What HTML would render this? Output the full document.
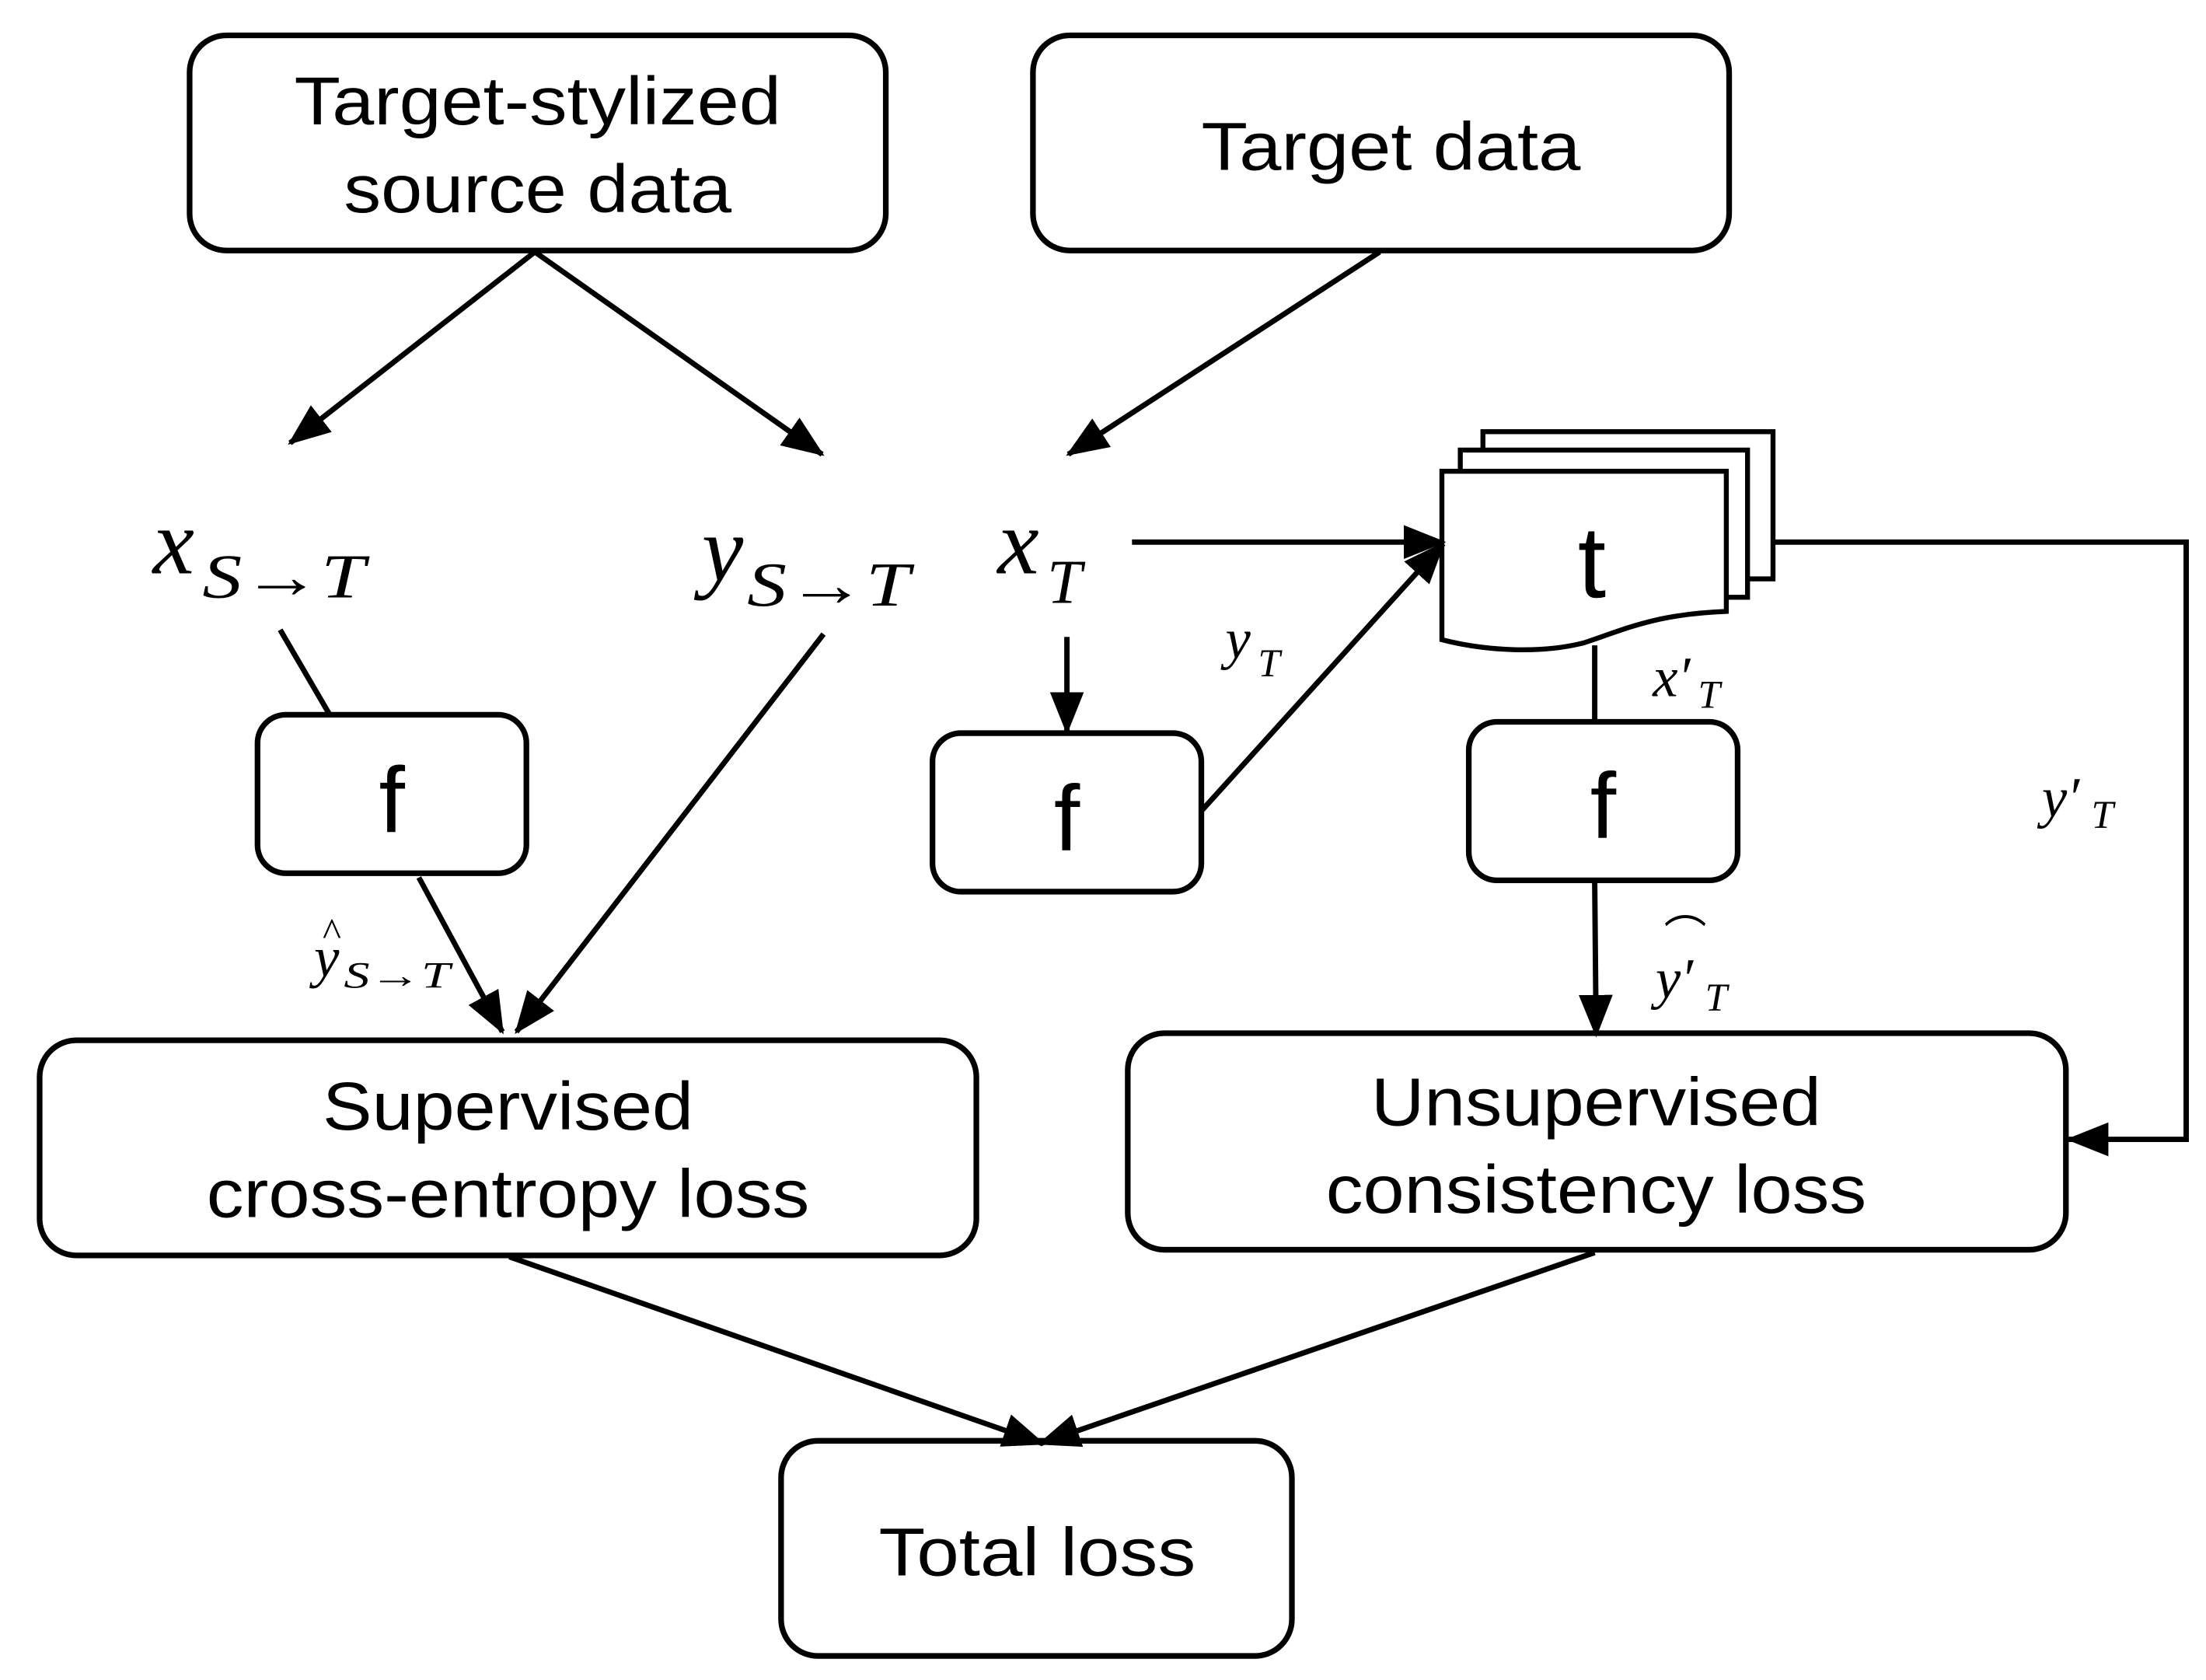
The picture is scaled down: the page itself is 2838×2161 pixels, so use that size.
<!DOCTYPE html>
<html><head><meta charset="utf-8"><style>html,body{margin:0;padding:0;background:#fff}svg{display:block}</style></head>
<body>
<svg width="2838" height="2161" viewBox="0 0 1559 1187" preserveAspectRatio="none" xmlns="http://www.w3.org/2000/svg">
<defs>
<marker id="a" markerUnits="userSpaceOnUse" markerWidth="30" markerHeight="24" refX="28" refY="12" orient="auto">
<path d="M0,0 L30,12 L0,24 Z" fill="#000"/>
</marker>
</defs>
<g fill="none" stroke="#000" stroke-width="4">
<rect x="134" y="25" width="492" height="152" rx="26"/>
<rect x="730" y="25" width="492" height="152" rx="26"/>
<rect x="182" y="505" width="190" height="112" rx="20"/>
<rect x="659" y="518" width="190" height="112" rx="20"/>
<rect x="1038" y="510" width="190" height="112" rx="20"/>
<rect x="28" y="735" width="662" height="152" rx="26"/>
<rect x="797" y="730" width="663" height="153" rx="26"/>
<rect x="552" y="1018" width="361" height="152" rx="26"/>
</g>
<g fill="#fff" stroke="#000" stroke-width="3.5">
<rect x="1048" y="305" width="205" height="104"/>
<rect x="1032" y="318" width="203" height="104"/>
<path d="M1019,333 L1220,333 L1220,432 C1170,434 1150,444 1120,454 C1090,462 1050,460 1019,452 Z"/>
</g>
<g fill="none" stroke="#000" stroke-width="3.8">
<line x1="378" y1="178" x2="205" y2="313" marker-end="url(#a)"/>
<line x1="378" y1="178" x2="581" y2="321" marker-end="url(#a)"/>
<line x1="975" y1="178" x2="755" y2="321" marker-end="url(#a)"/>
<line x1="198" y1="445" x2="233" y2="505"/>
<line x1="582" y1="448" x2="365" y2="729" marker-end="url(#a)"/>
<line x1="296" y1="620" x2="355" y2="729" marker-end="url(#a)"/>
<line x1="754" y1="450" x2="754" y2="517" marker-end="url(#a)"/>
<line x1="849" y1="573" x2="1020" y2="384" marker-end="url(#a)"/>
<line x1="800" y1="383" x2="1020" y2="383" marker-end="url(#a)"/>
<polyline points="1253,383 1545,383 1545,805 1462,805" marker-end="url(#a)"/>
<line x1="1127" y1="456" x2="1127" y2="510"/>
<line x1="1127" y1="624" x2="1128" y2="731" marker-end="url(#a)"/>
<line x1="360" y1="888" x2="737" y2="1020" marker-end="url(#a)"/>
<line x1="1127" y1="885" x2="735" y2="1020" marker-end="url(#a)"/>
</g>
<g font-family="Liberation Sans, Arial, sans-serif" font-size="48" text-anchor="middle" fill="#000">
<text x="380" y="88" textLength="344" lengthAdjust="spacingAndGlyphs">Target-stylized</text>
<text x="380" y="150" textLength="274" lengthAdjust="spacingAndGlyphs">source data</text>
<text x="983" y="120" textLength="268" lengthAdjust="spacingAndGlyphs">Target data</text>
<text x="359" y="798" textLength="262" lengthAdjust="spacingAndGlyphs">Supervised</text>
<text x="359" y="860" textLength="426" lengthAdjust="spacingAndGlyphs">cross-entropy loss</text>
<text x="1128" y="795" textLength="318" lengthAdjust="spacingAndGlyphs">Unsupervised</text>
<text x="1128" y="857" textLength="382" lengthAdjust="spacingAndGlyphs">consistency loss</text>
<text x="733" y="1113" textLength="224" lengthAdjust="spacingAndGlyphs">Total loss</text>
<text x="277" y="588" font-size="66">f</text>
<text x="754" y="601" font-size="66">f</text>
<text x="1133" y="592" font-size="66">f</text>
<text x="1125" y="422" font-size="72">t</text>
</g>
<g font-family="Liberation Serif, DejaVu Serif, serif" font-style="italic" fill="#000">
<text x="108" y="405" font-size="66">x</text>
<text x="143" y="422" font-size="44" font-style="normal" textLength="115" lengthAdjust="spacingAndGlyphs"><tspan font-style="italic">S</tspan>→<tspan font-style="italic">T</tspan></text>
<text x="496" y="410" font-size="66">y</text>
<text x="528" y="428" font-size="44" font-style="normal" textLength="115" lengthAdjust="spacingAndGlyphs"><tspan font-style="italic">S</tspan>→<tspan font-style="italic">T</tspan></text>
<text x="705" y="405" font-size="66">x</text>
<text x="740" y="426" font-size="44">T</text>
<text x="866" y="465" font-size="40">y</text>
<text x="889" y="478" font-size="28">T</text>
<text x="1168" y="492" font-size="40">x′</text>
<text x="1200" y="500" font-size="28">T</text>
<text x="1443" y="577" font-size="40">y′</text>
<text x="1478" y="585" font-size="28">T</text>
<text x="222" y="690" font-size="40">y</text>
<text x="228" y="668" font-size="28" font-style="normal">^</text>
<text x="243" y="698" font-size="26" font-style="normal" textLength="75" lengthAdjust="spacingAndGlyphs"><tspan font-style="italic">S</tspan>→<tspan font-style="italic">T</tspan></text>
<text x="1170" y="705" font-size="40">y′</text>
<text x="1176" y="672" font-size="30" font-style="normal">⌒</text>
<text x="1205" y="714" font-size="28">T</text>
</g>
</svg>
</body></html>
